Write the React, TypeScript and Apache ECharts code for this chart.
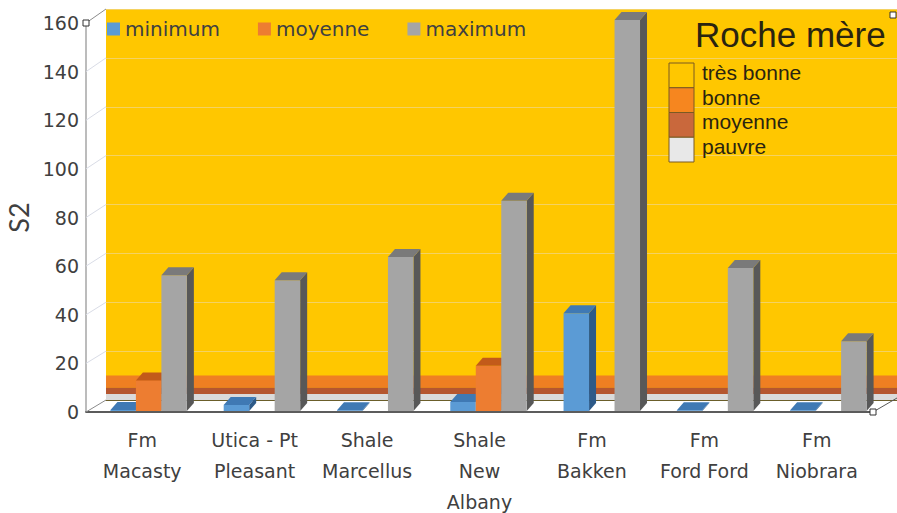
import React, { useEffect, useRef } from "react";
import * as echarts from "echarts";

const categories = [
  "Fm\nMacasty",
  "Utica - Pt\nPleasant",
  "Shale\nMarcellus",
  "Shale\nNew\nAlbany",
  "Fm\nBakken",
  "Fm\nFord Ford",
  "Fm\nNiobrara",
];
const minimumValues: (number | null)[] = [0.4, 2.5, 0.3, 3.7, 40, 0.3, 0.3];
const moyenneValues: (number | null)[] = [12.5, null, null, 18.5, null, null, null];
const maximumValues: (number | null)[] = [55.5, 53.5, 63, 86, 160, 58.5, 28.5];
const yTicks = [0, 20, 40, 60, 80, 100, 120, 140, 160];

const seriesNames = ["minimum", "moyenne", "maximum"];
const rocheNames = ["très bonne", "bonne", "moyenne", "pauvre"];
const rocheBandLimits = [
  [10, 160],
  [5, 10],
  [2.5, 5],
  [0, 2.5],
];

const FONT = "'DejaVu Sans', 'Open Sans', sans-serif";
const NAMEFONT = "Lato, 'Open Sans', sans-serif";
const ARIAL = "'Liberation Sans', Arial, sans-serif";

const barColors = [
  { front: "#5B9BD5", top: "#3F79B4", side: "#2D5A88" },
  { front: "#ED7D31", top: "#C25A1A", side: "#9E4613" },
  { front: "#A5A5A5", top: "#7A7A7A", side: "#585858" },
];
const bandColors = ["#FFC700", "#EF7F22", "#B5562F", "#DADADA"];
const legendBoxColors = ["#FFC700", "#F6861F", "#C9683C", "#E8E8E8"];

const FRONT = { left: 86, right: 24, top: 23, bottom: 101 };
const BACK = { left: 106, right: 0, top: 9, bottom: 113 };
const BARS = { left: 92, right: 12, top: 20, bottom: 102 };

export default function App() {
  const ref = useRef<HTMLDivElement>(null);
  useEffect(() => {
    if (!ref.current) return;
    const chart = echarts.init(ref.current, null, { renderer: "svg" });
    const allValues = [minimumValues, moyenneValues, maximumValues];

    const barSeries = allValues.map((vals, k) => ({
      name: seriesNames[k],
      type: "custom",
      xAxisIndex: 2,
      yAxisIndex: 2,
      clip: false,
      z: 5 + k,
      itemStyle: { color: barColors[k].front },
      data: vals
        .map((v, i) => (v === null ? null : [i, v]))
        .filter((d) => d !== null),
      renderItem: (params: any, api: any) => {
        const ci = api.value(0);
        const v = api.value(1);
        const base = api.coord([ci, 0]);
        const tp = api.coord([ci, v]);
        const band = api.size([1, 0])[0];
        const bw = band * 0.225;
        const x0 = base[0] + (k - 1.5) * bw;
        const x1 = x0 + bw;
        const yB = base[1];
        const yT = tp[1];
        const dx = 7;
        const dy = 8;
        const c = barColors[k];
        return {
          type: "group",
          children: [
            {
              type: "polygon",
              shape: { points: [[x1, yB], [x1 + dx, yB - dy], [x1 + dx, yT - dy], [x1, yT]] },
              style: { fill: c.side },
            },
            {
              type: "rect",
              shape: { x: x0, y: yT, width: bw, height: Math.max(yB - yT, 0) },
              style: { fill: c.front },
            },
            {
              type: "polygon",
              shape: { points: [[x0, yT], [x1, yT], [x1 + dx, yT - dy], [x0 + dx, yT - dy]] },
              style: { fill: c.top },
            },
          ],
        };
      },
    }));

    const option: any = {
      animation: false,
      backgroundColor: "#ffffff",
      legend: {
        data: seriesNames,
        left: 102,
        top: 14,
        itemWidth: 13,
        itemHeight: 13,
        itemGap: 38,
        icon: "rect",
        textStyle: { fontSize: 20, fontFamily: FONT, color: "#404040" },
      },
      grid: [
        { ...FRONT, containLabel: false, outerBoundsMode: "none" },
        {
          ...BACK,
          show: true,
          backgroundColor: bandColors[0],
          borderWidth: 0,
          z: 0,
          outerBoundsMode: "none",
        },
        { ...BARS, outerBoundsMode: "none" },
      ],
      xAxis: [
        {
          type: "category",
          gridIndex: 0,
          data: categories,
          axisLine: { show: true, lineStyle: { color: "#262626", width: 1.5 } },
          axisTick: { show: false },
          axisLabel: {
            fontSize: 19,
            fontFamily: FONT,
            color: "#404040",
            lineHeight: 31,
            margin: 12,
            interval: 0,
          },
        },
        {
          type: "value",
          gridIndex: 1,
          min: 0,
          max: 1,
          position: "top",
          axisLine: { show: true, lineStyle: { color: "#6B5E2A", width: 1 } },
          axisTick: { show: false },
          axisLabel: { show: false },
          splitLine: { show: false },
        },
        {
          type: "category",
          gridIndex: 2,
          data: categories,
          show: false,
        },
      ],
      yAxis: [
        {
          type: "value",
          gridIndex: 0,
          min: 0,
          max: 160,
          interval: 20,
          name: "S2",
          nameLocation: "middle",
          nameRotate: 90,
          nameGap: 52,
          nameTextStyle: { fontSize: 27, fontFamily: NAMEFONT, color: "#404040" },
          axisLine: { show: true, lineStyle: { color: "#A6A6A6", width: 1.5 } },
          axisTick: { show: false },
          axisLabel: { fontSize: 19, fontFamily: FONT, color: "#404040", margin: 7 },
          splitLine: { show: false },
        },
        {
          type: "value",
          gridIndex: 1,
          min: 0,
          max: 160,
          interval: 20,
          axisLine: { show: false },
          axisTick: { show: false },
          axisLabel: { show: false },
          splitLine: { show: true, lineStyle: { color: "#F4D262", width: 1.2 } },
        },
        {
          type: "value",
          gridIndex: 2,
          min: 0,
          max: 160,
          show: false,
        },
      ],
      series: [
        {
          name: "bands",
          type: "line",
          xAxisIndex: 1,
          yAxisIndex: 1,
          data: [
            [0, 0],
            [1, 0],
          ],
          symbol: "none",
          silent: true,
          lineStyle: { width: 0, opacity: 0 },
          z: 1,
          markArea: {
            silent: true,
            data: rocheBandLimits.slice(1).map((b, i) => [
              { yAxis: b[0], itemStyle: { color: bandColors[i + 1] } },
              { yAxis: b[1] },
            ]),
          },
        },
        ...barSeries,
      ],
    };
    chart.setOption(option);

    // side wall and floor edges, positioned through the axes' scales
    const frontX0 = FRONT.left;
    const frontX1 = 897 - FRONT.right;
    const backX0 = BACK.left;
    const backX1 = 897 - BACK.right;
    const sideLines: any[] = yTicks.map((v) => {
      const yf = chart.convertToPixel({ yAxisIndex: 0 }, v) as number;
      const yb = chart.convertToPixel({ yAxisIndex: 1 }, v) as number;
      const edge = v === 0 || v === 160;
      return {
        type: "line",
        z: 3,
        shape: { x1: frontX0, y1: yf, x2: backX0, y2: yb },
        style: { stroke: edge ? "#8C8C8C" : "#D9DCE6", lineWidth: 1 },
      };
    });
    const yf0 = chart.convertToPixel({ yAxisIndex: 0 }, 0) as number;
    const yb0 = chart.convertToPixel({ yAxisIndex: 1 }, 0) as number;
    const yf160 = chart.convertToPixel({ yAxisIndex: 0 }, 160) as number;
    const yb160 = chart.convertToPixel({ yAxisIndex: 1 }, 160) as number;
    sideLines.push({
      type: "line",
      z: 3,
      shape: { x1: frontX1, y1: yf0, x2: backX1, y2: yb0 - 2 },
      style: { stroke: "#595959", lineWidth: 1 },
    });
    const handles = [
      [frontX0, yf160],
      [frontX1, yf0],
      [backX1 - 4, yb160 + 6],
    ].map((p) => ({
      type: "rect",
      z: 50,
      shape: { x: p[0] - 3, y: p[1] - 3, width: 6, height: 6 },
      style: { fill: "#ffffff", stroke: "#333333", lineWidth: 1 },
    }));

    const legendX = 669;
    const legendY = 63;
    const boxH = 24.75;
    const rocheLegend: any[] = [
      {
        type: "text",
        z: 60,
        left: 695,
        top: 17,
        style: {
          text: "Roche mère",
          fontSize: 35,
          fontFamily: ARIAL,
          fill: "#2A2410",
        },
      },
    ];
    rocheNames.forEach((n, i) => {
      rocheLegend.push({
        type: "rect",
        z: 60,
        shape: { x: legendX, y: legendY + i * boxH, width: 25, height: boxH },
        style: { fill: legendBoxColors[i], stroke: "#7A5A22", lineWidth: 1 },
      });
      rocheLegend.push({
        type: "text",
        z: 60,
        x: 702,
        y: legendY + i * boxH + boxH / 2 - 3,
        style: {
          text: n,
          fontSize: 21,
          fontFamily: ARIAL,
          fill: "#2A2410",
          verticalAlign: "middle",
        },
      });
    });

    chart.setOption({ graphic: [...sideLines, ...handles, ...rocheLegend] });

    return () => chart.dispose();
  }, []);
  return (
    <div
      ref={ref}
      style={{ position: "fixed", left: 0, top: 0, width: 897, height: 513, background: "#fff" }}
    />
  );
}
